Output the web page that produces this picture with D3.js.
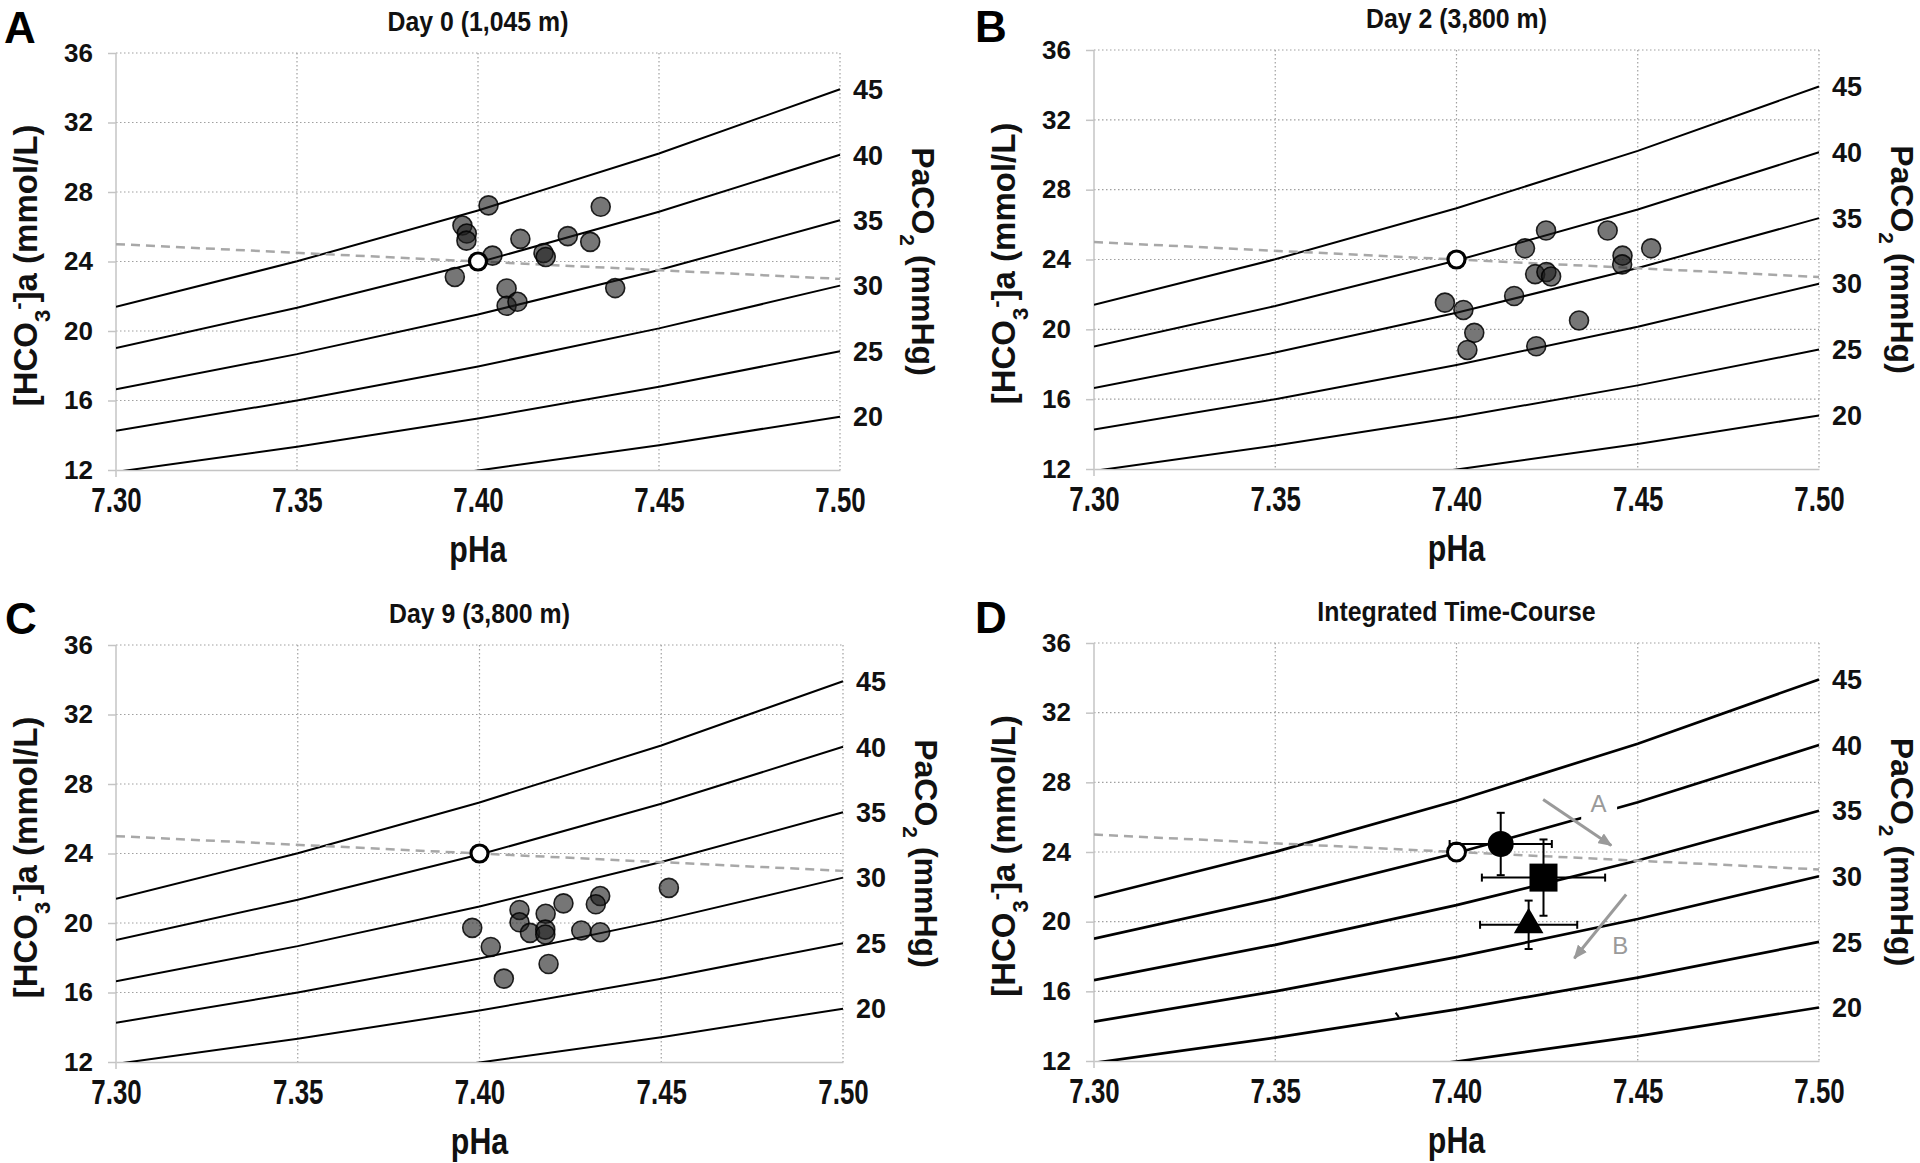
<!DOCTYPE html>
<html><head><meta charset="utf-8">
<script src="https://cdn.jsdelivr.net/npm/d3@7"></script>
<style>body{margin:0;background:#fff} svg{display:block}</style>
</head><body>
<svg id="chart" width="1920" height="1163"></svg>
<script>
// ---------------- DATA ----------------
const panelLetters = ["A", "B", "C", "D"];
const panelTitles = ["Day 0 (1,045 m)", "Day 2 (3,800 m)", "Day 9 (3,800 m)", "Integrated Time-Course"];
const phTicks = [7.30, 7.35, 7.40, 7.45, 7.50];
const phTickLabels = ["7.30", "7.35", "7.40", "7.45", "7.50"];
const hco3Ticks = [12, 16, 20, 24, 28, 32, 36];
const xLabel = "pHa";

// PaCO2 isopleths (mmHg) read at pH 7.30, 7.35, 7.40, 7.45, 7.50
const isoPH = [7.30, 7.35, 7.40, 7.45, 7.50];
const paco2Levels = ["45", "40", "35", "30", "25", "20"];
const iso45 = [21.40, 24.01, 26.94, 30.22, 33.91];
const iso40 = [19.02, 21.34, 23.94, 26.86, 30.14];
const iso35 = [16.64, 18.67, 20.95, 23.51, 26.37];
const iso30 = [14.26, 16.00, 17.96, 20.15, 22.61];
const iso25 = [11.89, 13.34, 14.96, 16.79, 18.84];
const iso20 = [9.51, 10.67, 11.97, 13.43, 15.07];

// Normal reference point and buffer (dashed) line
const normalPH = [7.40];
const normalHCO3 = [24.0];
const bufferPH = [7.30, 7.50];
const bufferHCO3 = [25.0, 23.0];

// Individual data
const day0PH   = [7.4029, 7.3957, 7.3969, 7.3968, 7.3936, 7.4040, 7.4117, 7.4079, 7.4079, 7.4109, 7.4181, 7.4187, 7.4248, 7.4310, 7.4339, 7.4379];
const day0HCO3 = [27.23, 26.07, 25.61, 25.20, 23.11, 24.34, 25.30, 22.45, 21.45, 21.68, 24.49, 24.26, 25.46, 25.13, 27.15, 22.47];
const day2PH   = [7.4247, 7.4417, 7.4189, 7.4537, 7.4458, 7.4457, 7.4217, 7.4248, 7.4261, 7.4159, 7.3968, 7.4019, 7.4338, 7.4049, 7.4030, 7.4220];
const day2HCO3 = [25.66, 25.66, 24.64, 24.64, 24.22, 23.72, 23.16, 23.28, 23.03, 21.91, 21.53, 21.11, 20.51, 19.80, 18.82, 19.03];
const day9PH   = [7.4521, 7.4332, 7.4320, 7.4231, 7.4110, 7.4110, 7.4182, 7.3980, 7.4139, 7.4181, 7.4181, 7.4280, 7.4332, 7.4031, 7.4190, 7.4067];
const day9HCO3 = [22.02, 21.55, 21.08, 21.13, 20.75, 20.04, 20.53, 19.72, 19.43, 19.62, 19.34, 19.57, 19.47, 18.62, 17.64, 16.80];

// Integrated time-course: means +/- SD (Day 0, Day 2, Day 9)
const meanShapes = ["circle", "square", "triangle"];
const meanPH     = [7.4122, 7.4240, 7.4199];
const meanHCO3   = [24.46, 22.53, 19.82];
const sdPH       = [0.0141, 0.0170, 0.0134];
const sdHCO3     = [1.79, 2.19, 1.39];

// Annotation arrows (pH, HCO3)
const arrowNames   = ["A", "B"];
const arrowFromPH  = [7.4239, 7.4468];
const arrowFromHCO3= [27.01, 21.56];
const arrowToPH    = [7.4427, 7.4325];
const arrowToHCO3  = [24.38, 17.90];
const arrowLabelPH = [7.4392, 7.4452];
const arrowLabelHCO3 = [26.80, 18.62];
const gapPH = [7.4344, 7.4443];     // break in 40 mmHg line behind label "A"
const gapHCO3 = [25.75, 26.9];
const strayMarkPH = [7.3832, 7.3841]; // small stray stroke in panel D
const strayMarkHCO3 = [14.78, 14.52];

// ---------------- DRAW ----------------
const svg = d3.select("#chart");
const FONT = "'Liberation Sans', Arial, Helvetica, sans-serif";
const isoSeries = [iso45, iso40, iso35, iso30, iso25, iso20];

const layout = [
  {l: 116, r: 840, t: 53, b: 470, lx: 4, ly: 43, lw: 2.0},
  {l: 1094, r: 1819, t: 50, b: 469, lx: 975, ly: 42, lw: 2.0},
  {l: 116, r: 843, t: 645, b: 1062, lx: 5, ly: 634, lw: 2.0},
  {l: 1094, r: 1819, t: 643, b: 1061, lx: 975, ly: 633, lw: 2.7}
];
const scatterPH = [day0PH, day2PH, day9PH];
const scatterHCO3 = [day0HCO3, day2HCO3, day9HCO3];

const defs = svg.append("defs");
defs.append("marker").attr("id", "arrowHead")
  .attr("viewBox", "0 0 12 10").attr("refX", 11).attr("refY", 5)
  .attr("markerWidth", 14).attr("markerHeight", 12).attr("markerUnits", "userSpaceOnUse")
  .attr("orient", "auto")
  .append("path").attr("d", "M0,0 L12,5 L0,10 Z").attr("fill", "#9a9a9a");

layout.forEach((L, i) => {
  const x = d3.scaleLinear().domain([7.30, 7.50]).range([L.l, L.r]);
  const y = d3.scaleLinear().domain([12, 36]).range([L.b, L.t]);
  const g = svg.append("g");
  const clipId = "clip" + i;
  defs.append("clipPath").attr("id", clipId).append("rect")
    .attr("x", L.l).attr("y", L.t - 2).attr("width", L.r - L.l + 2).attr("height", L.b - L.t + 2);

  // panel letter & title
  g.append("text").attr("x", L.lx).attr("y", L.ly).text(panelLetters[i])
    .attr("font-family", FONT).attr("font-weight", "bold").attr("font-size", 44).attr("fill", "#000");
  g.append("text").attr("transform", `translate(${(L.l + L.r) / 2},${L.t - 22}) scale(0.92,1)`)
    .text(panelTitles[i])
    .attr("text-anchor", "middle").attr("font-family", FONT).attr("font-weight", "bold")
    .attr("font-size", 27).attr("fill", "#111");

  // grid
  g.append("g").selectAll("line").data(phTicks.slice(1)).join("line")
    .attr("x1", d => x(d)).attr("x2", d => x(d)).attr("y1", L.t).attr("y2", L.b)
    .attr("stroke", "#a0a0a0").attr("stroke-width", 1.2).attr("stroke-dasharray", "1.5,2.5");
  g.append("g").selectAll("line").data(hco3Ticks.slice(1)).join("line")
    .attr("x1", L.l).attr("x2", L.r).attr("y1", d => y(d)).attr("y2", d => y(d))
    .attr("stroke", "#a0a0a0").attr("stroke-width", 1.2).attr("stroke-dasharray", "1.5,2.5");

  // axes
  const yAxis = g.append("g").attr("transform", `translate(${L.l},0)`)
    .call(d3.axisLeft(y).tickValues(hco3Ticks).tickFormat(d3.format("d")).tickSizeInner(8).tickSizeOuter(0).tickPadding(15));
  yAxis.select(".domain").attr("stroke", "#c4c4c4").attr("stroke-width", 1.5)
    .attr("d", `M0,${L.t}V${L.b + 7}`);
  yAxis.selectAll(".tick line").attr("stroke", "#c4c4c4").attr("stroke-width", 1.5);
  yAxis.selectAll(".tick text").attr("font-family", FONT).attr("font-weight", "bold")
    .attr("font-size", 26).attr("fill", "#111");

  const xAxis = g.append("g").attr("transform", `translate(0,${L.b})`)
    .call(d3.axisBottom(x).tickValues(phTicks).tickFormat((d, k) => phTickLabels[k]).tickSizeInner(0).tickSizeOuter(0).tickPadding(17));
  xAxis.select(".domain").attr("stroke", "#c4c4c4").attr("stroke-width", 1.5);
  xAxis.selectAll(".tick line").remove();
  xAxis.selectAll(".tick text").attr("font-family", FONT).attr("font-weight", "bold")
    .attr("font-size", 35).attr("fill", "#111").attr("transform", "scale(0.74,1)");

  // axis titles
  g.append("text").attr("transform", `translate(${(L.l + L.r) / 2},${L.b + 92}) scale(0.82,1)`)
    .attr("text-anchor", "middle").attr("font-family", FONT).attr("font-weight", "bold")
    .attr("font-size", 37).attr("fill", "#111").text(xLabel);

  const yt = g.append("text").attr("transform", `translate(${L.l - 91},${(L.t + L.b) / 2 + 4}) rotate(-90)`)
    .attr("text-anchor", "middle").attr("dy", "0.36em").attr("font-family", FONT)
    .attr("font-weight", "bold").attr("font-size", 33).attr("fill", "#111");
  yt.append("tspan").text("[HCO");
  yt.append("tspan").text("3").attr("font-size", 22).attr("baseline-shift", "sub");
  yt.append("tspan").text("-").attr("font-size", 22).attr("baseline-shift", "super");
  yt.append("tspan").text("]a (mmol/L)");

  const rt = g.append("text").attr("transform", `translate(${L.r + 84},${(L.t + L.b) / 2}) rotate(90)`)
    .attr("text-anchor", "middle").attr("dy", "0.36em").attr("font-family", FONT)
    .attr("font-weight", "bold").attr("font-size", 32).attr("fill", "#111");
  rt.append("tspan").text("PaCO");
  rt.append("tspan").text("2").attr("font-size", 21).attr("baseline-shift", "sub");
  rt.append("tspan").text(" (mmHg)");

  // isopleths
  const line = d3.line().x((d, k) => x(isoPH[k])).y(d => y(d));
  const plot = g.append("g").attr("clip-path", `url(#${clipId})`);
  plot.selectAll("path.iso").data(isoSeries).join("path").attr("class", "iso")
    .attr("d", d => line(d)).attr("fill", "none").attr("stroke", "#000").attr("stroke-width", L.lw);
  g.selectAll("text.pco2").data(isoSeries).join("text").attr("class", "pco2")
    .attr("x", L.r + 13).attr("y", d => y(d[d.length - 1])).attr("dy", "0.36em")
    .attr("font-family", FONT).attr("font-weight", "bold").attr("font-size", 27).attr("fill", "#111")
    .text((d, k) => paco2Levels[k]);

  // buffer line
  plot.append("path").attr("d", d3.line().x((d, k) => x(bufferPH[k])).y(d => y(d))(bufferHCO3))
    .attr("fill", "none").attr("stroke", "#a8a8a8").attr("stroke-width", 2.5).attr("stroke-dasharray", "9,6");

  if (i < 3) {
    const pts = scatterPH[i].map((p, k) => [p, scatterHCO3[i][k]]);
    g.append("g").selectAll("circle").data(pts).join("circle")
      .attr("cx", d => x(d[0])).attr("cy", d => y(d[1])).attr("r", 9.5)
      .attr("fill", "#1a1a1a").attr("fill-opacity", 0.6)
      .attr("stroke", "#000").attr("stroke-opacity", 0.85).attr("stroke-width", 1.6);
    g.append("g").selectAll("circle").data(normalPH).join("circle")
      .attr("cx", d => x(d)).attr("cy", (d, k) => y(normalHCO3[k])).attr("r", 8.5)
      .attr("fill", "#fff").attr("stroke", "#000").attr("stroke-width", 3.2);
  } else {
    // gap in 40 mmHg line behind label A
    g.append("rect").attr("x", x(gapPH[0])).attr("y", y(gapHCO3[1]))
      .attr("width", x(gapPH[1]) - x(gapPH[0])).attr("height", y(gapHCO3[0]) - y(gapHCO3[1]))
      .attr("fill", "#fff");
    // stray stroke
    g.append("line").attr("x1", x(strayMarkPH[0])).attr("y1", y(strayMarkHCO3[0]))
      .attr("x2", x(strayMarkPH[1])).attr("y2", y(strayMarkHCO3[1]))
      .attr("stroke", "#000").attr("stroke-width", 2);
    // arrows
    arrowNames.forEach((nm, k) => {
      g.append("line").attr("x1", x(arrowFromPH[k])).attr("y1", y(arrowFromHCO3[k]))
        .attr("x2", x(arrowToPH[k])).attr("y2", y(arrowToHCO3[k]))
        .attr("stroke", "#9a9a9a").attr("stroke-width", 3).attr("marker-end", "url(#arrowHead)");
      g.append("text").attr("x", x(arrowLabelPH[k])).attr("y", y(arrowLabelHCO3[k])).attr("dy", "0.36em")
        .attr("text-anchor", "middle").attr("font-family", FONT).attr("font-size", 24)
        .attr("fill", "#9a9a9a").text(nm);
    });
    // normal point
    g.append("g").selectAll("circle").data(normalPH).join("circle")
      .attr("cx", d => x(d)).attr("cy", (d, k) => y(normalHCO3[k])).attr("r", 9)
      .attr("fill", "#fff").attr("stroke", "#000").attr("stroke-width", 3);
    // error bars
    const eb = g.append("g").attr("stroke", "#000").attr("stroke-width", 2);
    meanPH.forEach((p, k) => {
      const cx = x(p), cy = y(meanHCO3[k]);
      const x0 = x(p - sdPH[k]), x1 = x(p + sdPH[k]);
      const y0 = y(meanHCO3[k] - sdHCO3[k]), y1 = y(meanHCO3[k] + sdHCO3[k]);
      eb.append("line").attr("x1", x0).attr("x2", x1).attr("y1", cy).attr("y2", cy);
      eb.append("line").attr("x1", x0).attr("x2", x0).attr("y1", cy - 4).attr("y2", cy + 4);
      eb.append("line").attr("x1", x1).attr("x2", x1).attr("y1", cy - 4).attr("y2", cy + 4);
      eb.append("line").attr("x1", cx).attr("x2", cx).attr("y1", y0).attr("y2", y1);
      eb.append("line").attr("x1", cx - 4).attr("x2", cx + 4).attr("y1", y0).attr("y2", y0);
      eb.append("line").attr("x1", cx - 4).attr("x2", cx + 4).attr("y1", y1).attr("y2", y1);
    });
    const symMap = {circle: [d3.symbolCircle, 530], square: [d3.symbolSquare, 784], triangle: [d3.symbolTriangle, 380]};
    g.append("g").selectAll("path").data(meanShapes).join("path")
      .attr("transform", (d, k) => `translate(${x(meanPH[k])},${y(meanHCO3[k])})`)
      .attr("d", d => d3.symbol().type(symMap[d][0]).size(symMap[d][1])())
      .attr("fill", "#000");
  }
});
</script>
</body></html>
